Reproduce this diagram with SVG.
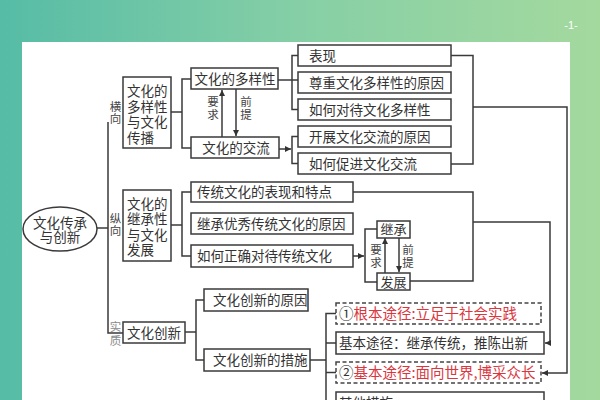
<svg xmlns="http://www.w3.org/2000/svg" width="600" height="400" viewBox="0 0 600 400">
<defs>
<linearGradient id="bg" x1="0" y1="0" x2="1" y2="0">
<stop offset="0" stop-color="#56bca6"/>
<stop offset="0.5" stop-color="#86cfa6"/>
<stop offset="1" stop-color="#a4d99e"/>
</linearGradient>
<marker id="ah" markerUnits="userSpaceOnUse" markerWidth="7" markerHeight="7" refX="6" refY="3" orient="auto">
<path d="M0,0 L6,3 L0,6 z" fill="#333"/>
</marker>
<style>
.bx{fill:#fff;stroke:#3a3a3a;stroke-width:1.5}
.dbx{fill:#fff;stroke:#444;stroke-width:1.5;stroke-dasharray:4 2.5}
.t{font-family:"Noto Sans CJK SC","Noto Sans",sans-serif;font-size:13.5px;fill:#333}
.tm{text-anchor:middle}
.lb{font-family:"Noto Sans CJK SC","Noto Sans",sans-serif;font-size:11.5px;fill:#444;text-anchor:middle}
.gr{fill:#8a8a8a}
.red{fill:#d9363e}
.ln{fill:none;stroke:#3a3a3a;stroke-width:1.5}
.ar{fill:none;stroke:#3a3a3a;stroke-width:1.5;marker-end:url(#ah)}
</style>
</defs>
<rect x="0" y="0" width="600" height="400" fill="url(#bg)"/>
<rect x="22" y="42" width="548" height="360" fill="#fff"/>
<text x="571" y="29" font-family="Liberation Sans, sans-serif" font-size="11" fill="#fff" text-anchor="middle">-1-</text>

<g id="connectors">
<polyline class="ln" points="97,228 108,228"/>
<polyline class="ln" points="108,122 108,333 123,333"/>
<polyline class="ln" points="171,112 182,112"/>
<polyline class="ln" points="191,79 182,79 182,148 191,148"/>
<polyline class="ar" points="222,137 222,90"/>
<polyline class="ar" points="236,89 236,136"/>
<polyline class="ln" points="278,80 298,80"/>
<polyline class="ln" points="298,55.5 292,55.5 292,109.5 298,109.5"/>
<polyline class="ar" points="279,149 291,149"/>
<polyline class="ln" points="298,136.5 292,136.5 292,163.5 298,163.5"/>
<polyline class="ln" points="451,55.5 473,55.5 473,164 451,164"/>
<polyline class="ar" points="473,107 567,107 567,373 542,373"/>
<polyline class="ln" points="171,225 182,225"/>
<polyline class="ln" points="191,192 182,192 182,256 191,256"/>
<polyline class="ln" points="353,192 473,192 473,281 410,281"/>
<polyline class="ar" points="473,222 550,222 550,343 545,343"/>
<polyline class="ar" points="353,256 364,256"/>
<polyline class="ln" points="377,229 365,229 365,282 377,282"/>
<polyline class="ar" points="385,273 385,238"/>
<polyline class="ar" points="399,237 399,272"/>
<polyline class="ln" points="185,332 196,332"/>
<polyline class="ln" points="204,300 196,300 196,360 204,360"/>
<polyline class="ln" points="310,360 326,360"/>
<polyline class="ln" points="336,313.5 326,313.5 326,402"/>
<polyline class="ln" points="326,343 336,343"/>
<polyline class="ln" points="326,372.5 336,372.5"/>
</g>

<g id="root">
<ellipse cx="60" cy="229" rx="37" ry="22" class="bx"/>
<text class="t tm" x="60" y="228"><tspan x="60" y="228">文化传承</tspan><tspan x="60" y="242">与创新</tspan></text>
</g>
<g id="lbl-heng"><text class="lb" x="115.5" y="111"><tspan x="115.5" y="111">横</tspan><tspan x="115.5" y="122.5">向</tspan></text></g>
<g id="lbl-zong"><text class="lb" x="115.5" y="223"><tspan x="115.5" y="223">纵</tspan><tspan x="115.5" y="234.5">向</tspan></text></g>
<g id="lbl-shi"><text class="lb gr" x="115.5" y="331"><tspan x="115.5" y="331">实</tspan><tspan x="115.5" y="345">质</tspan></text></g>

<g id="n1">
<rect class="bx" x="123" y="77" width="48" height="71"/>
<text class="t" x="127" y="96"><tspan x="127" y="96">文化的</tspan><tspan x="127" y="111.5">多样性</tspan><tspan x="127" y="127">与文化</tspan><tspan x="127" y="142.5">传播</tspan></text>
</g>
<g id="n1a"><rect class="bx" x="191" y="68" width="87" height="21"/><text class="t tm" x="235" y="83.5">文化的多样性</text></g>
<g id="n1b"><rect class="bx" x="191" y="137" width="88" height="21"/><text class="t tm" x="236" y="152.5">文化的交流</text></g>
<g id="rq1"><text class="lb" x="213" y="106"><tspan x="213" y="106">要</tspan><tspan x="213" y="119">求</tspan></text></g>
<g id="qt1"><text class="lb" x="246" y="106"><tspan x="246" y="106">前</tspan><tspan x="246" y="119">提</tspan></text></g>
<g id="n1a1"><rect class="bx" x="298" y="45" width="153" height="21"/><text class="t" x="309" y="60.5">表现</text></g>
<g id="n1a2"><rect class="bx" x="298" y="72" width="153" height="21"/><text class="t" x="309" y="87.5">尊重文化多样性的原因</text></g>
<g id="n1a3"><rect class="bx" x="298" y="99" width="153" height="21"/><text class="t" x="309" y="114.5">如何对待文化多样性</text></g>
<g id="n1b1"><rect class="bx" x="298" y="126" width="153" height="21"/><text class="t" x="309" y="141.5">开展文化交流的原因</text></g>
<g id="n1b2"><rect class="bx" x="298" y="153" width="153" height="21"/><text class="t" x="309" y="168.5">如何促进文化交流</text></g>

<g id="n2">
<rect class="bx" x="123" y="190" width="48" height="71"/>
<text class="t" x="127" y="208.5"><tspan x="127" y="208.5">文化的</tspan><tspan x="127" y="224">继承性</tspan><tspan x="127" y="239.5">与文化</tspan><tspan x="127" y="255">发展</tspan></text>
</g>
<g id="n2a"><rect class="bx" x="191" y="182" width="162" height="20"/><text class="t" x="197" y="197">传统文化的表现和特点</text></g>
<g id="n2b"><rect class="bx" x="191" y="213" width="162" height="21"/><text class="t" x="197" y="228.5">继承优秀传统文化的原因</text></g>
<g id="n2c"><rect class="bx" x="191" y="245" width="162" height="22"/><text class="t" x="197" y="261">如何正确对待传统文化</text></g>
<g id="n2d"><rect class="bx" x="377" y="221" width="33" height="17"/><text class="t tm" x="393.5" y="234" style="font-size:13px">继承</text></g>
<g id="n2e"><rect class="bx" x="377" y="273" width="33" height="17"/><text class="t tm" x="393.5" y="286.5" style="font-size:13px">发展</text></g>
<g id="rq2"><text class="lb" x="376" y="254"><tspan x="376" y="254">要</tspan><tspan x="376" y="267">求</tspan></text></g>
<g id="qt2"><text class="lb" x="408" y="254"><tspan x="408" y="254">前</tspan><tspan x="408" y="267">提</tspan></text></g>

<g id="n3"><rect class="bx" x="123" y="322" width="62" height="21"/><text class="t tm" x="154" y="337.5">文化创新</text></g>
<g id="n3a"><rect class="bx" x="204" y="289" width="104" height="22"/><text class="t" x="213" y="305">文化创新的原因</text></g>
<g id="n3b"><rect class="bx" x="204" y="349" width="106" height="22"/><text class="t" x="213" y="365">文化创新的措施</text></g>
<g id="n3b1"><rect class="dbx" x="336" y="303" width="205" height="21"/><text class="t" x="339" y="319" style="font-size:14.5px">①<tspan class="red">根本途径:立足于社会实践</tspan></text></g>
<g id="n3b2"><rect class="bx" x="336" y="332" width="208" height="22"/><text class="t" x="339" y="348">基本途径：继承传统，推陈出新</text></g>
<g id="n3b3"><rect class="dbx" x="336" y="362" width="205" height="21"/><text class="t" x="339" y="378" style="font-size:14.5px">②<tspan class="red">基本途径:面向世界,博采众长</tspan></text></g>
<g id="n3b4"><rect class="bx" x="336" y="392" width="208" height="22"/><text class="t" x="339" y="408">其他措施</text></g>
</svg>
